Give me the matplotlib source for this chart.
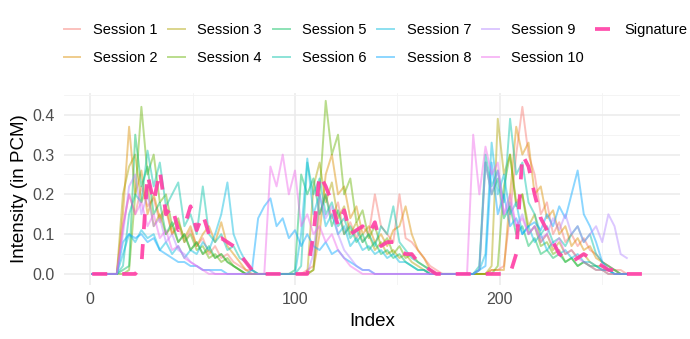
import numpy as np
import matplotlib
matplotlib.use("Agg")
import matplotlib.pyplot as plt
from matplotlib.ticker import MultipleLocator

plt.rcParams['font.family'] = ['Liberation Sans', 'DejaVu Sans']

# readings every 3rd index, starting at index 1
session_1 = [0, 0, 0, 0, 0,
             0.12, 0.2, 0.15, 0.22, 0.17, 0.19, 0.13, 0.16, 0.1, 0.12, 0.08, 0.11, 0.07, 0.09, 0.05, 0.07, 0.04, 0.05, 0.03, 0.02, 0.01, 0.01, 0,
             0, 0, 0, 0, 0, 0, 0, 0.01,
             0.02, 0.15, 0.2, 0.14, 0.18, 0.1, 0.13, 0.09, 0.12, 0.1, 0.2, 0.12, 0.1, 0.08, 0.2, 0.09, 0.08, 0.06, 0.04, 0.02, 0.01,
             0, 0, 0, 0, 0,
             0, 0, 0, 0.01, 0.01, 0.02, 0.15, 0.3, 0.42, 0.3, 0.25, 0.15, 0.18, 0.1, 0.13, 0.08, 0.1, 0.07, 0.09, 0.06, 0.05, 0.03, 0.02, 0.01, 0.01, 0]
session_2 = [0, 0, 0, 0, 0,
             0.15, 0.37, 0.2, 0.26, 0.15, 0.2, 0.14, 0.17, 0.1, 0.13, 0.09, 0.12, 0.07, 0.1, 0.12, 0.08, 0.13, 0.07, 0.05, 0.03, 0.01, 0, 0,
             0, 0, 0, 0, 0, 0, 0, 0,
             0.01, 0.1, 0.25, 0.3, 0.2, 0.22, 0.14, 0.17, 0.1, 0.12, 0.08, 0.1, 0.07, 0.11, 0.12, 0.17, 0.1, 0.06, 0.04, 0.01, 0,
             0, 0, 0, 0, 0,
             0, 0, 0, 0.01, 0.01, 0.01, 0.2, 0.37, 0.3, 0.33, 0.2, 0.22, 0.14, 0.16, 0.1, 0.12, 0.07, 0.09, 0.06, 0.07, 0.04, 0.03, 0.02, 0.01, 0, 0]
session_3 = [0, 0, 0, 0, 0,
             0.2, 0.27, 0.3, 0.18, 0.22, 0.12, 0.15, 0.1, 0.12, 0.08, 0.1, 0.06, 0.08, 0.05, 0.06, 0.04, 0.05, 0.03, 0.02, 0.01, 0, 0, 0,
             0, 0, 0, 0, 0, 0, 0, 0,
             0.22, 0.28, 0.18, 0.23, 0.14, 0.17, 0.1, 0.13, 0.08, 0.1, 0.06, 0.08, 0.05, 0.06, 0.04, 0.05, 0.03, 0.02, 0.01, 0, 0,
             0, 0, 0, 0, 0,
             0, 0, 0, 0.02, 0.39, 0.25, 0.3, 0.18, 0.2, 0.12, 0.15, 0.08, 0.1, 0.06, 0.08, 0.05, 0.06, 0.04, 0.05, 0.03, 0.02, 0.02, 0.01, 0.01, 0, 0]
session_4 = [0, 0, 0, 0, 0,
             0, 0.01, 0.2, 0.42, 0.25, 0.3, 0.18, 0.2, 0.12, 0.14, 0.08, 0.1, 0.06, 0.07, 0.04, 0.05, 0.03, 0.04, 0.02, 0.01, 0, 0, 0,
             0, 0, 0, 0, 0, 0, 0, 0,
             0.01, 0.2, 0.435, 0.3, 0.35, 0.2, 0.24, 0.13, 0.16, 0.09, 0.12, 0.07, 0.09, 0.05, 0.07, 0.04, 0.05, 0.03, 0.02, 0.01, 0,
             0, 0, 0, 0, 0,
             0, 0, 0, 0, 0.02, 0.22, 0.3, 0.17, 0.2, 0.1, 0.12, 0.07, 0.08, 0.05, 0.06, 0.03, 0.04, 0.02, 0.03, 0.02, 0.01, 0.01, 0, 0, 0, 0]
session_5 = [0, 0, 0, 0, 0,
             0.01, 0.02, 0.35, 0.22, 0.27, 0.15, 0.18, 0.1, 0.13, 0.08, 0.1, 0.06, 0.08, 0.05, 0.07, 0.04, 0.05, 0.03, 0.02, 0.01, 0, 0, 0,
             0, 0, 0, 0, 0, 0.01, 0.25, 0.2,
             0.24, 0.15, 0.2, 0.12, 0.16, 0.1, 0.12, 0.08, 0.1, 0.06, 0.08, 0.05, 0.06, 0.04, 0.05, 0.03, 0.02, 0.01, 0.01, 0, 0,
             0, 0, 0, 0, 0,
             0, 0.01, 0.28, 0.2, 0.24, 0.14, 0.17, 0.1, 0.12, 0.07, 0.09, 0.05, 0.06, 0.04, 0.05, 0.03, 0.04, 0.02, 0.03, 0.02, 0.02, 0.01, 0.01, 0, 0, 0]
session_6 = [0, 0, 0, 0, 0,
             0.02, 0.15, 0.2, 0.18, 0.31, 0.22, 0.28, 0.17, 0.2, 0.23, 0.12, 0.15, 0.1, 0.22, 0.1, 0.08, 0.1, 0.06, 0.07, 0.04, 0.03, 0.01, 0,
             0, 0, 0, 0, 0, 0, 0.02, 0.28,
             0.2, 0.24, 0.15, 0.18, 0.12, 0.14, 0.09, 0.11, 0.08, 0.1, 0.07, 0.12, 0.1, 0.17, 0.08, 0.06, 0.04, 0.03, 0.02, 0.01, 0,
             0, 0, 0, 0, 0,
             0, 0.02, 0.3, 0.22, 0.26, 0.18, 0.39, 0.25, 0.28, 0.18, 0.15, 0.1, 0.12, 0.08, 0.09, 0.07, 0.1, 0.12, 0.08, 0.1, 0.05, 0.03, 0.02, 0.01, 0, 0]
session_7 = [0, 0, 0, 0, 0,
             0.05, 0.1, 0.08, 0.11, 0.09, 0.1, 0.06, 0.08, 0.05, 0.07, 0.04, 0.06, 0.05, 0.08, 0.06, 0.1, 0.15, 0.23, 0.1, 0.06, 0.03, 0.01, 0,
             0, 0, 0, 0, 0, 0, 0.1, 0.29,
             0.15, 0.2, 0.12, 0.15, 0.1, 0.12, 0.07, 0.09, 0.06, 0.07, 0.05, 0.06, 0.04, 0.05, 0.03, 0.03, 0.02, 0.01, 0.01, 0, 0,
             0, 0, 0, 0, 0,
             0, 0.01, 0.05, 0.33, 0.2, 0.25, 0.15, 0.18, 0.1, 0.12, 0.08, 0.1, 0.06, 0.08, 0.05, 0.06, 0.04, 0.05, 0.03, 0.03, 0.02, 0.01, 0.01, 0, 0, 0]
session_8 = [0, 0, 0, 0, 0,
             0.08, 0.1, 0.09, 0.1, 0.08, 0.09, 0.06, 0.05, 0.04, 0.03, 0.03, 0.02, 0.02, 0.01, 0.01, 0.01, 0.01, 0, 0, 0, 0, 0.01, 0.14,
             0.17, 0.19, 0.12, 0.14, 0.09, 0.11, 0.07, 0.1,
             0.07, 0.06, 0.08, 0.05, 0.06, 0.04, 0.03, 0.02, 0.01, 0.01, 0, 0, 0, 0, 0, 0, 0, 0, 0, 0, 0,
             0, 0, 0, 0, 0,
             0, 0.01, 0.02, 0.28, 0.15, 0.2, 0.12, 0.14, 0.1, 0.12, 0.13, 0.11, 0.15, 0.12, 0.17, 0.14, 0.2, 0.26, 0.15, 0.12, 0.08, 0.03, 0.01, 0, 0, 0]
session_9 = [0, 0, 0, 0, 0,
             0.1, 0.22, 0.25, 0.15, 0.2, 0.12, 0.14, 0.08, 0.1, 0.06, 0.05, 0.03, 0.02, 0.01, 0.01, 0, 0, 0, 0, 0, 0, 0, 0,
             0, 0, 0, 0, 0, 0, 0, 0,
             0.05, 0.2, 0.14, 0.17, 0.1, 0.06, 0.04, 0.02, 0.01, 0.01, 0, 0, 0, 0, 0, 0, 0, 0, 0, 0, 0,
             0, 0, 0, 0, 0,
             0, 0.01, 0.28, 0.2, 0.26, 0.15, 0.18, 0.12, 0.15, 0.1, 0.12, 0.09, 0.1, 0.14, 0.11, 0.15, 0.1, 0.12, 0.08, 0.1, 0.12, 0.08, 0.15, 0.12, 0.05, 0.04]
session_10 = [0, 0, 0, 0, 0,
              0.12, 0.2, 0.15, 0.18, 0.12, 0.15, 0.09, 0.11, 0.06, 0.07, 0.04, 0.03, 0.02, 0.01, 0, 0, 0, 0, 0, 0, 0, 0, 0,
              0, 0.27, 0.22, 0.3, 0.2, 0.26, 0.12, 0.15,
              0.1, 0.12, 0.08, 0.1, 0.06, 0.04, 0.02, 0.01, 0, 0, 0, 0, 0, 0, 0, 0, 0, 0, 0, 0, 0,
              0, 0, 0, 0, 0,
              0.35, 0.2, 0.32, 0.25, 0.28, 0.15, 0.2, 0.12, 0.14, 0.1, 0.12, 0.08, 0.1, 0.07, 0.09, 0.05, 0.06, 0.04, 0.03, 0.02, 0.01, 0.01, 0, 0, 0, 0]
signature = [0, 0, 0, 0, 0, 0, 0, 0,
             0.02, 0.25, 0.18, 0.26, 0.15, 0.17, 0.11, 0.12, 0.17, 0.11, 0.15, 0.1, 0.085, 0.09, 0.08, 0.07, 0.05, 0.03, 0.01, 0,
             0, 0, 0, 0, 0, 0, 0, 0,
             0.1, 0.25, 0.22, 0.18, 0.12, 0.16, 0.1, 0.11, 0.12, 0.1, 0.13, 0.07, 0.08, 0.08, 0.06, 0.05, 0.05, 0.03, 0.02, 0.01, 0,
             0, 0, 0, 0, 0, 0, 0, 0, 0, 0, 0, 0,
             0.05, 0.3, 0.27, 0.2, 0.14, 0.11, 0.08, 0.05, 0.04, 0.03, 0.04, 0.05, 0.04, 0.03, 0.02, 0.01, 0.01, 0, 0, 0, 0, 0, 0]

sessions = [session_1, session_2, session_3, session_4, session_5,
            session_6, session_7, session_8, session_9, session_10]
labels = ['Session %d' % (i + 1) for i in range(10)]
colors = ['#F8766D', '#DB8E00', '#AEA200', '#64B200', '#00BD5C',
          '#00C1A7', '#00BADE', '#00A6FF', '#B385FF', '#EF67EB']

fig = plt.figure(figsize=(6.9, 3.39), dpi=100)
ax = fig.add_axes([0.093, 0.159, 0.892, 0.567])

for vals, lab, col in zip(sessions, labels, colors):
    idx = np.arange(1, 1 + 3 * len(vals), 3)
    ax.plot(idx, vals, color=col, alpha=0.45, lw=1.4, label=lab)

idx = np.arange(1, 1 + 3 * len(signature), 3)
ax.plot(idx, signature, color='#FF3EA5', alpha=0.9, lw=2.7, ls=(0, (4, 4)), label='Signature')

ax.set_xlim(-12.7, 287.8)
ax.set_ylim(-0.028, 0.455)
ax.xaxis.set_major_locator(MultipleLocator(100))
ax.xaxis.set_minor_locator(MultipleLocator(50))
ax.yaxis.set_major_locator(MultipleLocator(0.1))
ax.yaxis.set_minor_locator(MultipleLocator(0.05))
ax.grid(which='major', color='#EBEBEB', lw=1.1)
ax.grid(which='minor', color='#F3F3F3', lw=0.6)
ax.set_axisbelow(True)
for s in ax.spines.values():
    s.set_visible(False)
ax.tick_params(which='both', length=0, labelsize=11.5, labelcolor='#4D4D4D')
ax.tick_params(axis='x', pad=5)
ax.tick_params(axis='y', pad=7)
ax.set_xlabel('Index', fontsize=13.5, labelpad=4)
ax.set_ylabel('Intensity (in PCM)', fontsize=13.5, labelpad=3)

fig.legend(loc='upper center', bbox_to_anchor=(0.544, 0.97), ncol=6, frameon=False,
           fontsize=10.5, handlelength=1.15, handletextpad=0.85, columnspacing=0.75,
           labelspacing=0.95)

fig.savefig('out.png', dpi=100)
